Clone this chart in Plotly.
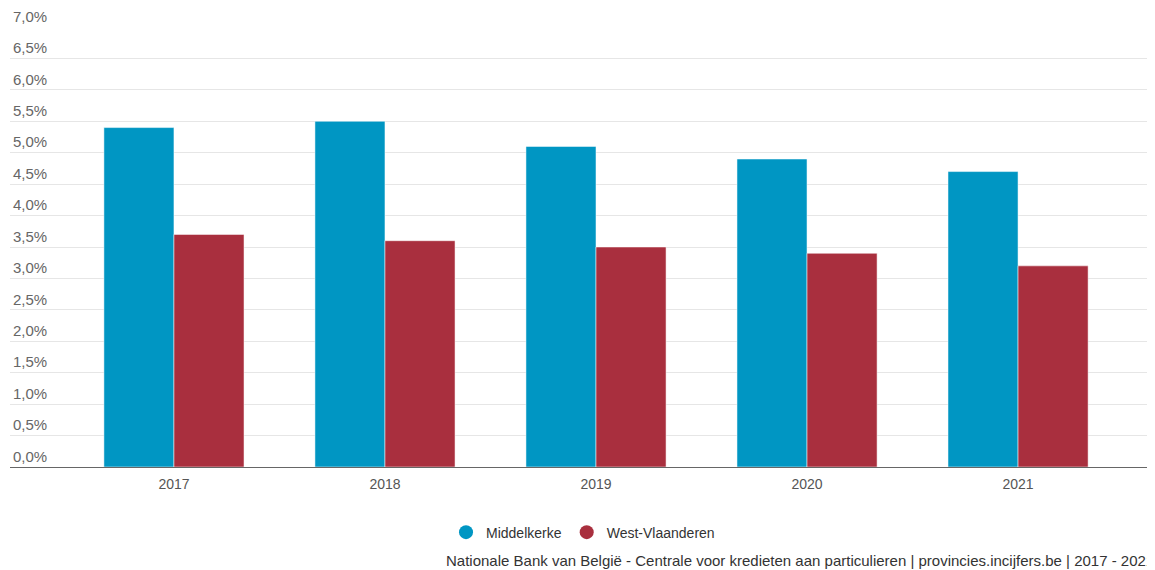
import plotly.graph_objects as go

years = ["2017", "2018", "2019", "2020", "2021"]
middelkerke = [5.4, 5.5, 5.1, 4.9, 4.7]
west_vlaanderen = [3.7, 3.6, 3.5, 3.4, 3.2]
series_names = ["Middelkerke", "West-Vlaanderen"]
colors = ["#0096c3", "#a92f3e"]
y_ticks = [0, 0.5, 1, 1.5, 2, 2.5, 3, 3.5, 4, 4.5, 5, 5.5, 6, 6.5, 7]
y_tick_labels = [f"{v:.1f}%".replace(".", ",") for v in y_ticks]
source_text = ("Nationale Bank van België - Centrale voor kredieten aan particulieren"
               " | provincies.incijfers.be | 2017 - 2021")

FONT = "Liberation Sans, Arial, sans-serif"

fig = go.Figure()
for name, vals, col in zip(series_names, [middelkerke, west_vlaanderen], colors):
    fig.add_trace(go.Bar(
        x=years, y=vals, name=name, marker_color=col,
        marker_line=dict(width=1, color="rgba(255,255,255,0.5)"),
        showlegend=False, hoverinfo="x+y+name",
    ))
for name, col in zip(series_names, colors):
    fig.add_trace(go.Scatter(
        x=[None], y=[None], mode="markers", name=name,
        marker=dict(color=col, size=14, symbol="circle"),
        showlegend=True,
    ))

fig.update_layout(
    width=1147, height=562,
    margin=dict(l=2, r=0, t=16, b=103),
    paper_bgcolor="white", plot_bgcolor="white",
    barmode="group", bargap=0.336, bargroupgap=0,
    font=dict(family=FONT, size=14, color="#666666"),
    legend=dict(orientation="h", x=0.3808, xanchor="left", y=-0.149, yanchor="middle",
                font=dict(family=FONT, size=14, color="#333333"),
                traceorder="normal"),
    annotations=[dict(
        text=source_text, xref="paper", yref="paper", x=0.379, y=-0.212,
        xanchor="left", yanchor="middle", showarrow=False,
        font=dict(family=FONT, size=15, color="#333333"),
    )],
)
fig.update_xaxes(
    type="category", range=[-0.777, 4.649],
    showline=True, linecolor="#666666", linewidth=1,
    showgrid=False, ticks="", tickfont=dict(color="#555555", size=14),
    ticklabelstandoff=4, fixedrange=True,
)
fig.update_yaxes(
    range=[0, 7], tickvals=y_ticks, ticktext=y_tick_labels,
    ticklabelposition="inside top", ticklabeloverflow="allow",
    showgrid=True, gridcolor="#e6e6e6", gridwidth=1,
    zeroline=False, showline=False, ticks="",
    tickfont=dict(color="#666666", size=15), fixedrange=True,
)

fig.write_html("out.html")
